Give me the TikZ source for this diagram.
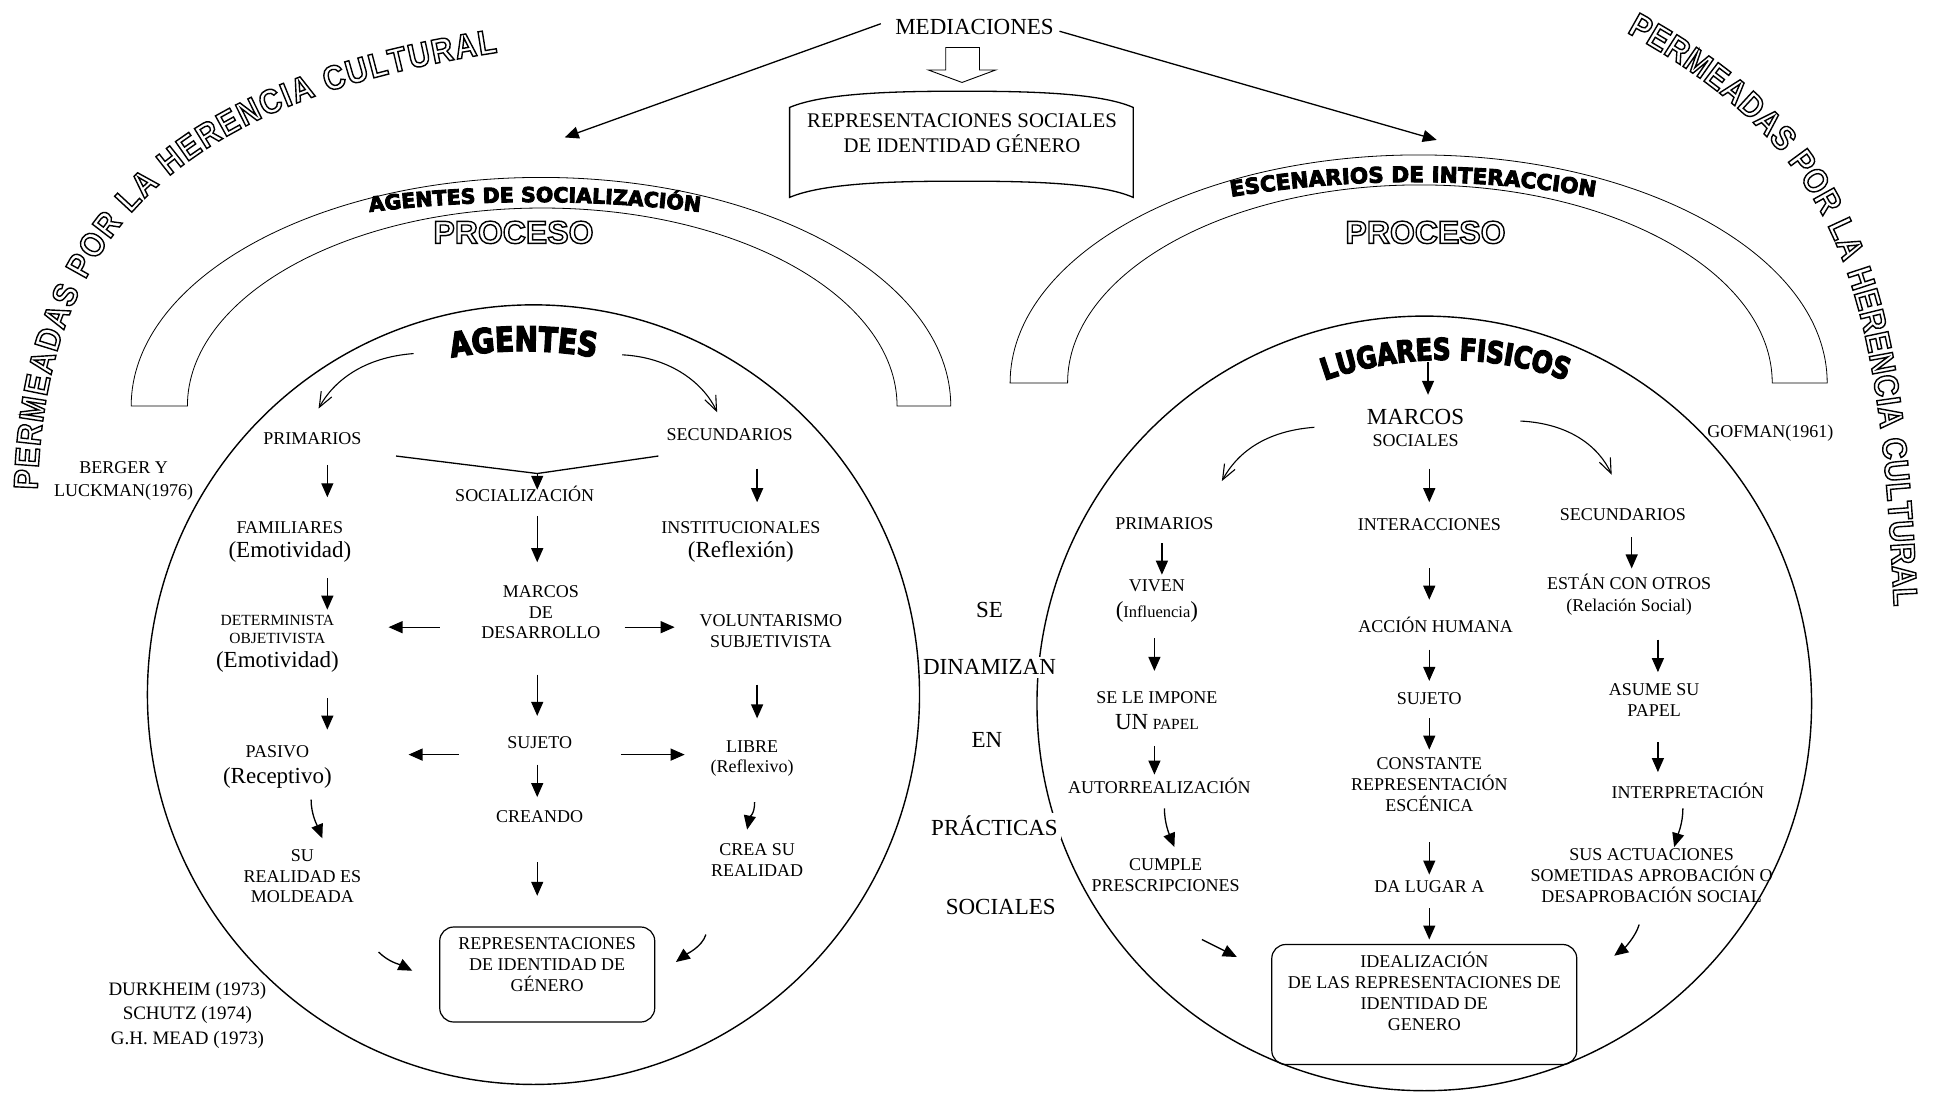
\documentclass[tikz,border=0pt]{standalone}
\usepackage{fontspec}
\setmainfont{Liberation Serif}
\newfontfamily\hvb{Liberation Sans Bold}
\newfontfamily\hvbc{Liberation Sans Bold}[FakeStretch=0.88]
\newfontfamily\blk{DejaVu Sans Bold}
\newfontfamily\blkc{DejaVu Sans Bold}[FakeStretch=0.82]
\usetikzlibrary{arrows.meta,decorations.text}
\newcommand\fs[2]{\fontsize{#1}{#2}\selectfont}
\newcommand\olon{\special{pdf:literal direct 1 Tr 1.4 w}}
\newcommand\oloff{\special{pdf:literal direct 0 Tr}}
\newcommand\heavy{\special{pdf:literal direct 2 Tr 0.9 w}}
\newcommand\heavier{\special{pdf:literal direct 2 Tr 1.3 w}}
\newcommand\permfont{\hvbc\fs{34}{34}\olon}
\newcommand\procfont{\hvb\fs{32}{32}}
\newcommand\agsfont{\blk\fs{20.5}{20.5}\heavy}
\newcommand\escfont{\blk\fs{21.5}{21.5}\heavy}
\newcommand\agfont{\blkc\fs{34}{34}\heavier}
\newcommand\lugfont{\blkc\fs{30}{30}\heavier}
\newcommand\bp[1]{{\fs{23}{26}#1}}
\newcommand\conn[5][arr]{\draw[#1] ([shift={(#3)}]#2.center) -- ([shift={(#5)}]#4.center);}
\newcommand\cconn[7][arr]{\draw[#1] ([shift={(#3)}]#2.center) .. controls +(#6) and +(#7) .. ([shift={(#5)}]#4.center);}
\begin{document}
\begin{tikzpicture}[x=1.2494pt,y=-1.2494pt,
  tx/.style={align=center,inner sep=1pt,font=\fs{18}{21}},
  tbig/.style={align=center,inner sep=1pt,font=\fs{23}{26}},
  tmid/.style={align=center,inner sep=3pt,font=\fs{23}{26}},
  arr/.style={line width=1.3pt,-{Triangle[length=14pt,width=12pt]}},
  barb/.style={line width=1.1pt,-{Straight Barb[length=15pt,width=12pt]}},
  plainln/.style={line width=1.3pt},
  band/.style={line width=0.8pt},
  ring/.style={line width=1.4pt},
  rbox/.style={draw,line width=1.2pt,rounded corners=14pt,inner sep=0pt}]
\useasboundingbox (0,0) rectangle (1568,876);

% ---------- bands (PROCESO arches)
\draw[band] (105,325) arc[start angle=180,end angle=360,x radius=328,y radius=183]
   -- (718,325) arc[start angle=360,end angle=180,x radius=284,y radius=158.5] -- cycle;
\draw[band] (808.5,306.5) arc[start angle=180,end angle=360,x radius=327,y radius=182.5]
   -- (1418.5,306.5) arc[start angle=360,end angle=180,x radius=282,y radius=158.5] -- cycle;

% ---------- circles
\draw[ring] (427,556) circle[x radius=309,y radius=312];
\draw[ring] (1140,563) circle[radius=310];

% ---------- banner and block arrow
\draw[line width=1.3pt,fill=white] (632,86) .. controls (660,74) and (720,73) .. (770,73)
   .. controls (820,73) and (880,74) .. (907,86) -- (907,158)
   .. controls (880,146) and (820,145) .. (770,145)
   .. controls (720,145) and (660,146) .. (632,158) -- cycle;
\draw[line width=0.9pt,fill=white] (757,38) -- (784,38) -- (784,56) -- (797,56) -- (770,66)
   -- (743,56) -- (757,56) -- cycle;

% ---------- named coordinates for WordArt titles
\coordinate (agc) at (419,281);
\coordinate (lugc) at (1157,285);
\coordinate (agsocc) at (428,161);
\coordinate (escc) at (1131,146);
\coordinate (vjoin) at (430,379);

% ---------- top texts
\node[tbig] (med) at (780,22) {MEDIACIONES};
\node[align=center,inner sep=1pt,font=\fs{20.8}{25}] (rep) at (770,107) {REPRESENTACIONES SOCIALES\\DE IDENTIDAD GÉNERO};

% ---------- left circle texts
\node[tx,font=\fs{18}{22.5}] (berger) at (99,385) {BERGER Y\\LUCKMAN(1976)};
\node[tx] (primL) at (250,351) {PRIMARIOS};
\node[tx] (secL) at (584,348) {SECUNDARIOS};
\node[tx] (soc) at (420,395) {SOCIALIZACIÓN};
\node[tx] (fam) at (232,422) {FAMILIARES};
\node[tbig] (femo) at (232,442) {(Emotividad)};
\node[tx] (inst) at (593,422) {INSTITUCIONALES};
\node[tbig] (refl) at (593,442) {(Reflexión)};
\node[tx,font=\fs{18}{20.6}] (marcosL) at (433,490) {MARCOS\\DE\\DESARROLLO};
\node[tx,font=\fs{15.5}{17.5}] (det) at (222,504) {DETERMINISTA\\OBJETIVISTA};
\node[tbig] (demo) at (222,530) {(Emotividad)};
\node[tx] (vol) at (617,505.5) {VOLUNTARISMO\\SUBJETIVISTA};
\node[tx] (pas) at (222,602) {PASIVO};
\node[tbig] (rec) at (222,623) {(Receptivo)};
\node[tx] (sujL) at (432,594) {SUJETO};
\node[tx] (libre) at (602,598) {LIBRE};
\node[tx] (reflx) at (602,615) {(Reflexivo)};
\node[tx] (crea) at (432,654) {CREANDO};
\node[tx,font=\fs{18}{20.6}] (su) at (242,701.5) {SU\\REALIDAD ES\\MOLDEADA};
\node[tx] (creasu) at (606,688.5) {CREA SU\\REALIDAD};
\node[rbox,minimum width=215pt,minimum height=95pt] (boxL) at (438,780) {};
\node[tx] (boxLt) at (438,772) {REPRESENTACIONES\\DE IDENTIDAD DE\\GÉNERO};
\node[tx,font=\fs{19}{24.4}] (durk) at (150,812.5) {DURKHEIM (1973)\\SCHUTZ (1974)\\G.H. MEAD (1973)};

% ---------- middle words
\node[tmid] (se) at (792,488) {SE};
\node[tmid,fill=white] (din) at (792,534) {DINAMIZAN};
\node[tmid] (en) at (790,592) {EN};
\node[tmid,fill=white] (prac) at (796,661) {PRÁCTICAS};
\node[tmid] (socs) at (801,726) {SOCIALES};

% ---------- right circle texts
\node[tbig] (mar) at (1133,334) {MARCOS};
\node[tx] (socR) at (1133,353) {SOCIALES};
\node[tx] (primR) at (932,419) {PRIMARIOS};
\node[tx] (inter) at (1144,420) {INTERACCIONES};
\node[tx] (secR) at (1299,412) {SECUNDARIOS};
\node[tx] (viv) at (926,469) {VIVEN};
\node[tx,font=\fs{16.5}{20}] (infl) at (926,490) {\bp{(}Influencia\bp{)}};
\node[tx,font=\fs{18}{22.5}] (estan) at (1304,476) {ESTÁN CON OTROS\\(Relación Social)};
\node[tx] (accion) at (1149,500) {ACCIÓN HUMANA};
\node[tx] (sujR) at (1144,559) {SUJETO};
\node[tx] (asume) at (1324,560.5) {ASUME SU\\PAPEL};
\node[tx] (impone) at (926,558) {SE LE IMPONE};
\node[tx] (unpapel) at (926,578) {\bp{UN} {\fs{15.5}{18}PAPEL}};
\node[tx] (const) at (1144,628) {CONSTANTE\\REPRESENTACIÓN\\ESCÉNICA};
\node[tx] (auto) at (928,629) {AUTORREALIZACIÓN};
\node[tx] (interp) at (1351,633) {INTERPRETACIÓN};
\node[tx] (cumple) at (933,700.5) {CUMPLE\\PRESCRIPCIONES};
\node[tx] (dalugar) at (1144,710) {DA LUGAR A};
\node[tx] (sus) at (1322,701) {SUS ACTUACIONES\\SOMETIDAS APROBACIÓN O\\DESAPROBACIÓN SOCIAL};
\node[rbox,minimum width=305pt,minimum height=120pt] (boxR) at (1140,804) {};
\node[tx] (boxRt) at (1140,793.5) {IDEALIZACIÓN\\DE LAS REPRESENTACIONES DE\\IDENTIDAD DE\\GENERO};
\node[tx,font=\fs{18}{22}] (gof) at (1417,347) {GOFMAN(1961)};

% ---------- top arrows
\conn{med}{-75,-3}{agsocc}{24,-51}
\conn{med}{68,3}{escc}{19,-34}

% ---------- left circle connectors
\cconn[barb]{agc}{-88,2}{primL}{5,-24}{-40,3}{12,-22}
\cconn[barb]{agc}{79,3}{secL}{-10,-18}{40,2}{-10,-22}
\conn{primL}{12,21}{fam}{30,-24}
\conn{femo}{30,21}{det}{40,-16}
\conn{demo}{40,29}{pas}{40,-18}
\cconn{rec}{27,17}{su}{16,-30.5}{0,12}{-4,-10}
\conn{secL}{22,27}{inst}{13,-20}
\conn{vol}{-11,42.5}{libre}{4,-23}
\cconn{reflx}{2,27}{creasu}{-8,-24.5}{0,10}{2,-10}
\draw[plainln] ([shift={(67,14)}]primL.center) -- (vjoin) -- ([shift={(-57,17)}]secL.center);
\conn{vjoin}{0,0}{soc}{10,-3}
\conn{soc}{10,18}{marcosL}{-3,-40}
\conn{marcosL}{-81,12}{det}{89,-2}
\conn{marcosL}{67,12}{vol}{-77,-3.5}
\conn{marcosL}{-3,50}{sujL}{-2,-21}
\conn{sujL}{-65,10}{pas}{105,2}
\conn{sujL}{65,10}{libre}{-54,6}
\conn{sujL}{-2,18}{crea}{-2,-16}
\conn{crea}{-2,36}{boxL}{-8,-63}
\cconn{su}{61,60.5}{boxL}{-108,-3}{8,8}{-10,-5}
\cconn{creasu}{-41,59.5}{boxL}{103,-10}{-3,10}{8,-6}

% ---------- right circle connectors
\conn{lugc}{-14,5}{mar}{10,-18}
\cconn[barb]{mar}{-81,8}{primR}{46,-34}{-40,3}{12,-22}
\cconn[barb]{mar}{84,3}{secR}{-9,-32}{40,2}{-10,-22}
\conn{socR}{11,22}{inter}{0,-18}
\conn{inter}{0,35}{accion}{-5,-20}
\conn{accion}{-5,20}{sujR}{0,-14}
\conn{sujR}{0,16}{const}{0,-28}
\conn{const}{0,46}{dalugar}{0,-10}
\conn{dalugar}{0,17}{boxR}{4,-52}
\conn{primR}{-2,16}{viv}{4,-9}
\conn{infl}{-2,21}{impone}{-2,-21}
\conn{unpapel}{-2,19}{auto}{-4,-9}
\cconn{auto}{4,18}{cumple}{7,-22.5}{0,12}{-4,-10}
\conn{cumple}{29,51.5}{boxR}{-150,-38}
\conn{secR}{7,18}{estan}{2,-21}
\conn{estan}{23,36}{asume}{3,-22.5}
\conn{asume}{3,33.5}{interp}{-24,-15}
\cconn{interp}{-4,14}{sus}{18,-23}{0,12}{3,-10}
\cconn{sus}{-10,39}{boxR}{152,-39}{-3,10}{8,-6}

% ---------- WordArt black titles
\path[decorate,decoration={text along path,text={|\agsfont|AGENTES DE SOCIALIZACIÓN},text align=center}]
  ([shift={(260:1100)}]428,1261.7) arc[start angle=260,end angle=280,radius=1100];
\path[decorate,decoration={text along path,text={|\escfont|ESCENARIOS DE INTERACCION},text align=center}]
  ([shift={(259:900)}]1131,1045.7) arc[start angle=259,end angle=281,radius=900];
\path[decorate,decoration={text along path,text={|\agfont|AGENTES},text align=center}]
  ([shift={(255:320)}]419,601) arc[start angle=255,end angle=285,radius=320];
\path[decorate,decoration={text along path,text={|\lugfont|LUGARES FISICOS},text align=center}]
  ([shift={(246:290)}]1157,578) arc[start angle=246,end angle=294,radius=290];

% ---------- outlined titles (drawn last)
\node[font=\procfont,inner sep=0pt] (procL) at (411,186) {\olon PROCESO\oloff};
\node[font=\procfont,inner sep=0pt] (procR) at (1141,186) {\olon PROCESO\oloff};
\path[decorate,decoration={text along path,text={|\permfont|PERMEADAS POR LA HERENCIA CULTURAL},text align={fit to path}}]
  (30,392) .. controls (36,180) and (150,80) .. (398,42);
\path[decorate,decoration={text along path,text={|\permfont|PERMEADAS POR LA HERENCIA CULTURAL},text align={fit to path}}]
  (1302,26) .. controls (1477,122) and (1504,232) .. (1516,485);
\end{tikzpicture}
\end{document}
